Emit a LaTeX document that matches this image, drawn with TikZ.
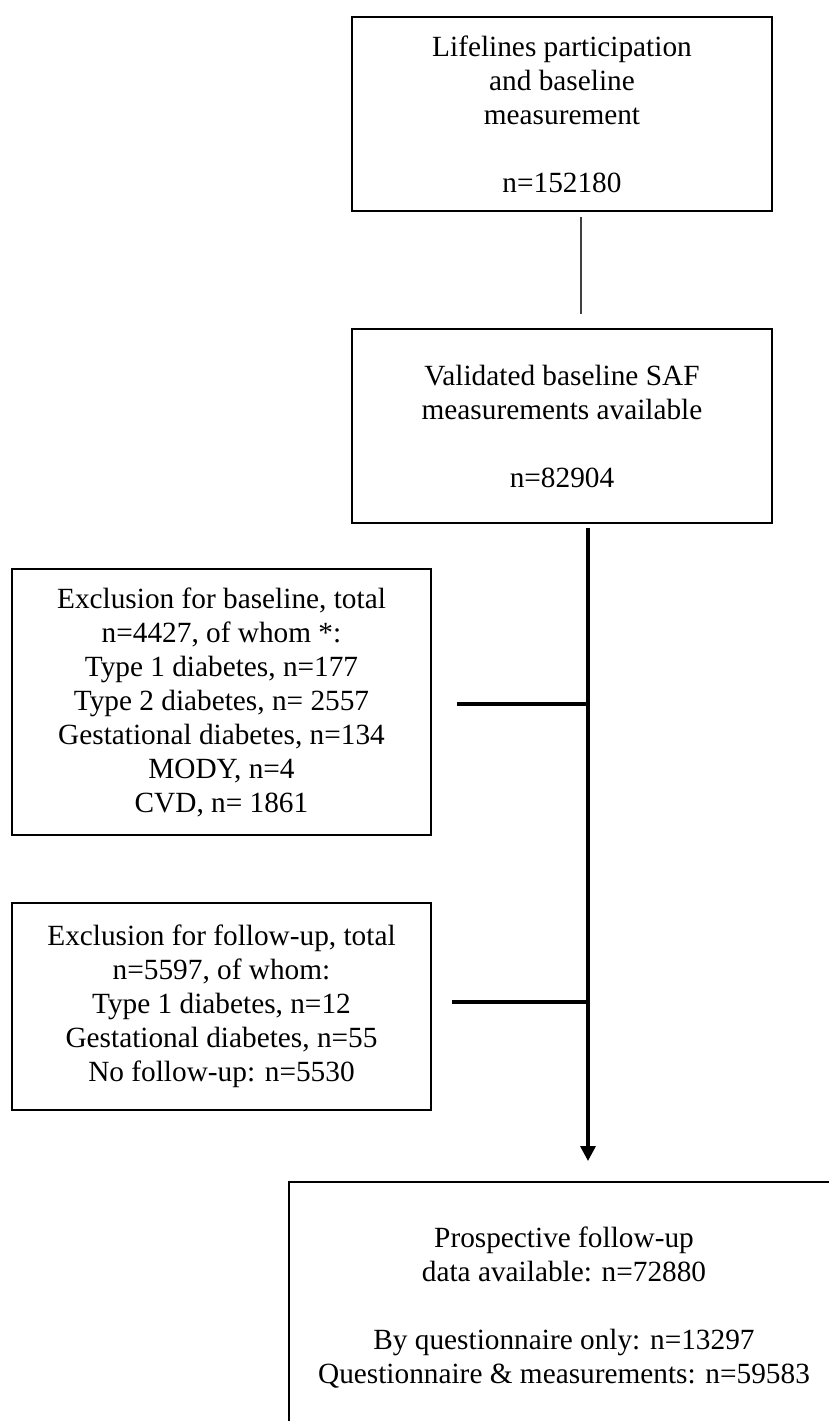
\documentclass[tikz,border=0pt]{standalone}
\usepackage{fontspec}
\setmainfont{Liberation Serif}
\usetikzlibrary{arrows.meta}
\begin{document}
\begin{tikzpicture}[x=1pt,y=-1pt,
  box/.style={draw=black, line width=2.7pt, rectangle, inner sep=0pt, align=center,
    font=\fontsize{29.3}{34}\selectfont},
  flow/.style={line width=3.3pt, draw=black},
  thinline/.style={line width=1.7pt, draw=black!75}]
\useasboundingbox (0,0) rectangle (829,1421);
\node[box, minimum width=420pt, minimum height=194pt] (b1) at (562,114)
  {Lifelines participation\\and baseline\\measurement\\[34pt]n=152180};
\node[box, minimum width=420pt, minimum height=194pt] (b2) at (562,426)
  {Validated baseline SAF\\measurements available\\[34pt]n=82904};
\node[box, minimum width=419pt, minimum height=266pt] (b3) at (221.5,702)
  {Exclusion for baseline, total\\n=4427, of whom *:\\Type 1 diabetes, n=177\\Type 2 diabetes, n= 2557\\Gestational diabetes, n=134\\MODY, n=4\\CVD, n= 1861};
\node[box, minimum width=419pt, minimum height=207pt] (b4) at (221.5,1006.5)
  {Exclusion for follow-up, total\\n=5597, of whom:\\Type 1 diabetes, n=12\\Gestational diabetes, n=55\\No follow-up: n=5530};
\node[box, minimum width=550pt, minimum height=251pt] (b5) at (564,1307.5)
  {Prospective follow-up\\data available: n=72880\\[34pt]By questionnaire only: n=13297\\Questionnaire \& measurements: n=59583};
\coordinate (t1) at (581,217);
\coordinate (t2) at (581,314);
\draw[thinline] (t1) -- (t2);
\coordinate (vtop) at (588,528);
\coordinate (vend) at (588,1161);
\draw[flow, -{Triangle[width=15pt,length=15pt]}] (vtop) -- (vend);
\coordinate (h1) at (457,704);
\coordinate (j1) at (588,704);
\draw[flow] (h1) -- (j1);
\coordinate (h2) at (452,1002);
\coordinate (j2) at (588,1002);
\draw[flow] (h2) -- (j2);
\end{tikzpicture}
\end{document}
